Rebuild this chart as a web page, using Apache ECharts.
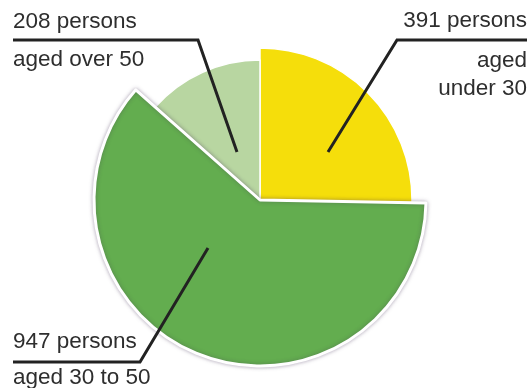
<!DOCTYPE html>
<html>
<head>
<meta charset="utf-8">
<script src="https://cdn.jsdelivr.net/npm/echarts@6/dist/echarts.min.js"></script>
<style>
  html, body { margin: 0; padding: 0; background: #fff; }
  #main { width: 531px; height: 388px; }
</style>
</head>
<body>
<div id="main"></div>
<script>
// data
var categories = ['aged under 30', 'aged 30 to 50', 'aged over 50'];
var values = [391, 947, 208];
var countLabels = ['391 persons', '947 persons', '208 persons'];
var groupLabels = ['aged\nunder 30', 'aged 30 to 50', 'aged over 50'];

// look of each slice (green one sticks out further)
var colors = ['#f5de0b', '#63ad4f', '#b8d6a1'];
var radii = [152, 166, 140];
var drawOrder = [0, 2, 1];

// where each callout sits
var labelPos = [
  { x: 527, y: -5, align: 'right', verticalAlign: 'top', pts: [[328, 152], [397, 40], [527, 40]] },
  { x: 13, y: 360, align: 'left', verticalAlign: 'middle', pts: [[208, 248], [140, 362], [13, 362]] },
  { x: 13, y: 41, align: 'left', verticalAlign: 'middle', pts: [[237, 152], [198, 40], [13, 40]] }
];

var myChart = echarts.init(document.getElementById('main'));

var base = {
  type: 'pie',
  center: [260, 200],
  startAngle: 90,
  clockwise: true,
  silent: true,
  avoidLabelOverlap: false,
  emphasis: { disabled: true }
};

// one pie per slice so each can have its own radius
var series = drawOrder.map(function (i) {
  return Object.assign({}, base, {
    radius: [0, radii[i]],
    z: i === 1 ? 3 : 2,
    label: { show: false },
    labelLine: { show: false },
    data: values.map(function (v, j) {
      var on = j === i;
      return {
        value: v,
        name: categories[j],
        itemStyle: on ? {
          color: colors[j],
          borderColor: '#fff',
          borderWidth: j === 1 ? 3 : 1.5,
          shadowBlur: j === 1 ? 4 : 0,
          shadowColor: 'rgba(60,40,80,0.35)'
        } : { color: 'rgba(0,0,0,0)', borderWidth: 0 }
      };
    })
  });
});

// invisible pie on top that only carries the callouts
series.push(Object.assign({}, base, {
  radius: [0, 166],
  z: 10,
  itemStyle: { color: 'rgba(0,0,0,0)', borderWidth: 0 },
  data: values.map(function (v, j) {
    return { value: v, name: categories[j] };
  }),
  label: {
    show: true,
    formatter: function (p) {
      var k = p.dataIndex;
      if (k === 0) {
        return '{a|' + countLabels[k] + '}\n{c|aged}\n{c|under 30}';
      }
      var s = k === 2 ? 'b' : 'd';
      return '{' + s + '|' + countLabels[k] + '}\n{' + s + '|' + groupLabels[k] + '}';
    },
    color: '#2e2e2e',
    fontFamily: 'Liberation Sans, Arial, sans-serif',
    fontSize: 22.5,
    rich: {
      a: { fontSize: 22.5, lineHeight: 52, color: '#2e2e2e', align: 'right' },
      b: { fontSize: 22.5, lineHeight: 38, color: '#2e2e2e' },
      c: { fontSize: 22.5, lineHeight: 28, color: '#2e2e2e', align: 'right' },
      d: { fontSize: 22.5, lineHeight: 36, color: '#2e2e2e' }
    }
  },
  labelLine: {
    show: true,
    lineStyle: { color: '#222', width: 3 }
  },
  labelLayout: function (params) {
    var lp = labelPos[params.dataIndex];
    return {
      x: lp.x,
      y: lp.y,
      align: lp.align,
      verticalAlign: lp.verticalAlign,
      labelLinePoints: lp.pts
    };
  }
}));

var option = {
  animation: false,
  series: series
};

myChart.setOption(option);
</script>
</body>
</html>
